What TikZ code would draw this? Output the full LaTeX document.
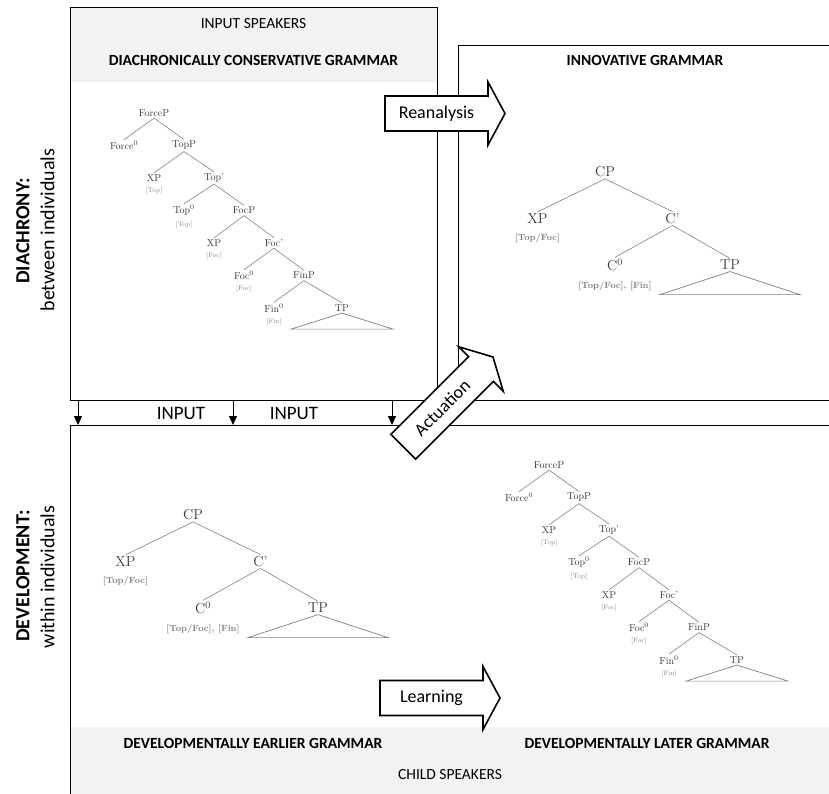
\documentclass[tikz,border=0pt]{standalone}
\usepackage{fontspec}
\usepackage{tikz}
\usetikzlibrary{
    arrows.meta,
    positioning,
    calc
}
\newfontfamily\calibri{Carlito}
\definecolor{bandgrey}{HTML}{F2F2F2}
\definecolor{branchgrey}{HTML}{808080}
\definecolor{labelgrey}{HTML}{383838}
\tikzset{
    frame/.style = {
        draw,
        line width=0.9pt,
        inner sep=0pt,
        outer sep=0pt,
        anchor=north west
    },
    band/.style = {
        fill=bandgrey
    },
    heading/.style = {
        font=\calibri\fontsize{15.5}{18}\selectfont
    },
    boldheading/.style = {
        font=\calibri\bfseries\fontsize{15.5}{18}\selectfont
    },
    sidehead/.style = {
        font=\calibri\bfseries\fontsize{20}{24}\selectfont,
        rotate=90
    },
    sidetext/.style = {
        font=\calibri\fontsize{20}{24}\selectfont,
        rotate=90
    },
    inputlabel/.style = {
        font=\calibri\fontsize{19}{22}\selectfont
    },
    inputarrow/.style = {
        -{Triangle[length=9pt,width=8pt]},
        line width=0.9pt
    },
    bigarrow/.style = {
        draw,
        fill=white,
        line width=1.6pt
    },
    arrowlabel/.style = {
        font=\calibri\fontsize{18}{21}\selectfont
    },
    feat/.style = {
        label=below:{#1}
    },
    roof/.style = {
        draw=branchgrey,
        line width=0.7pt
    },
    smalltree/.style = {
        every node/.style = {font=\fontsize{10}{12}\selectfont, text=labelgrey, inner sep=1.5pt},
        every label/.style = {font=\fontsize{6.5}{8}\selectfont, text=branchgrey, inner sep=0.5pt},
        edge from parent/.style = {draw=branchgrey, line width=0.6pt},
        level distance=32.5pt,
        sibling distance=60pt,
        label distance=4pt,
        parent anchor=south,
        child anchor=north
    },
    bigtree/.style = {
        every node/.style = {font=\fontsize{14.4}{17}\selectfont, text=labelgrey, inner sep=1.5pt},
        every label/.style = {font=\bfseries\fontsize{9}{11}\selectfont, text=branchgrey, inner sep=0.5pt},
        edge from parent/.style = {draw=branchgrey, line width=0.6pt},
        level distance=46.5pt,
        level 1/.style = {sibling distance=135pt},
        level 2/.style = {sibling distance=115pt},
        label distance=8pt,
        parent anchor=south,
        child anchor=north
    },
    cartography/.pic = {
        \path [smalltree] node (-forcep) {ForceP}
            child {node (-forcehead) {Force$^0$}}
            child {node (-topp) {TopP}
                child {node (-topxp) [feat={[Top]}] {XP}}
                child {node (-topbar) {Top'}
                    child {node (-tophead) [feat={[Top]}] {Top$^0$}}
                    child {node (-focp) {FocP}
                        child {node (-focxp) [feat={[Foc]}] {XP}}
                        child {node (-focbar) {Foc'}
                            child {node (-fochead) [feat={[Foc]}] {Foc$^0$}}
                            child {node (-finp) {FinP}
                                child {node (-finhead) [feat={[Fin]}] {Fin$^0$}}
                                child [xshift=8pt] {node (-tp) {TP}}
                            }
                        }
                    }
                }
            };
        \draw [roof] (-tp.south) -- ++(-51pt,-16pt) -- ++(102pt,0pt) -- cycle;
    },
    cpgrammar/.pic = {
        \path [bigtree] node (-cp) {CP}
            child {node (-cpxp) [feat={[Top/Foc]}] {XP}}
            child {node (-cbar) {C'}
                child {node (-chead) [feat={[Top/Foc], [Fin]}] {C$^0$}}
                child {node (-tp) {TP}}
            };
        \draw [roof] (-tp.south) -- ++(-70pt,-23pt) -- ++(140pt,0pt) -- cycle;
    },
    pics/blockarrow/.style 2 args = {
        code = {
            \draw [bigarrow] (0,17.5) -- (#1,17.5) -- (#1,31.5) -- ({#1+17},0)
                -- (#1,-31.5) -- (#1,-17.5) -- (0,-17.5) -- cycle;
            \node (-label) [arrowlabel] at ({#1/2},0) {#2};
        }
    }
}

\begin{document}
\begin{tikzpicture}[x=1pt, y=1pt]
\useasboundingbox (0,0) rectangle (829,-794);

% grey bands behind the frames
\fill [band] (70,-7) rectangle (437,-82);
\fill [band] (70,-727) rectangle (829,-794);

\node (diabox) [frame, minimum width=367pt, minimum height=393pt] at (70,-7) {};
\node (innobox) [frame, minimum width=371pt, minimum height=355pt] at (458,-45) {};
\node (devbox) [frame, minimum width=759pt, minimum height=369pt] at (70,-425) {};

\node (inputspk) [heading] at (253.5,-24) {INPUT SPEAKERS};
\node (consgram) [boldheading] at (253.5,-60) {DIACHRONICALLY CONSERVATIVE GRAMMAR};
\node (innogram) [boldheading] at (645,-60) {INNOVATIVE GRAMMAR};
\node (earlygram) [boldheading] at (253,-743) {DEVELOPMENTALLY EARLIER GRAMMAR};
\node (lategram) [boldheading] at (647,-743) {DEVELOPMENTALLY LATER GRAMMAR};
\node (childspk) [heading] at (450,-775) {CHILD SPEAKERS};

\node (diahead) [sidehead] at (23,-231) {DIACHRONY:};
\node (diatext) [sidetext] at (47.5,-230) {between individuals};
\node (devhead) [sidehead] at (23,-576) {DEVELOPMENT:};
\node (devtext) [sidetext] at (47.5,-577) {within individuals};

% input from the older speakers
\coordinate (feed1) at (78,-400);
\coordinate (feed2) at (233,-400);
\coordinate (feed3) at (392,-400);
\foreach \f in {feed1,feed2,feed3}
    \draw [inputarrow] (\f) -- (\f |- devbox.north);
\node (input1) [inputlabel] at (181,-413) {INPUT};
\node (input2) [inputlabel] at (294,-413) {INPUT};

\pic (oldtree) at (154,-113) {cartography};
\pic (newtree) at (605,-172) {cpgrammar};
\pic (earlytree) at (193,-515) {cpgrammar};
\pic (latetree) at (549,-465) {cartography};

\pic (reanalysis) at (385,-113.5) {blockarrow={103}{Reanalysis}};
\pic (learning) at (380,-698) {blockarrow={103}{Learning}};
\pic (actuation) [rotate=45, transform shape] at (403.2,-446.8) {blockarrow={110}{Actuation}};
\end{tikzpicture}
\end{document}
